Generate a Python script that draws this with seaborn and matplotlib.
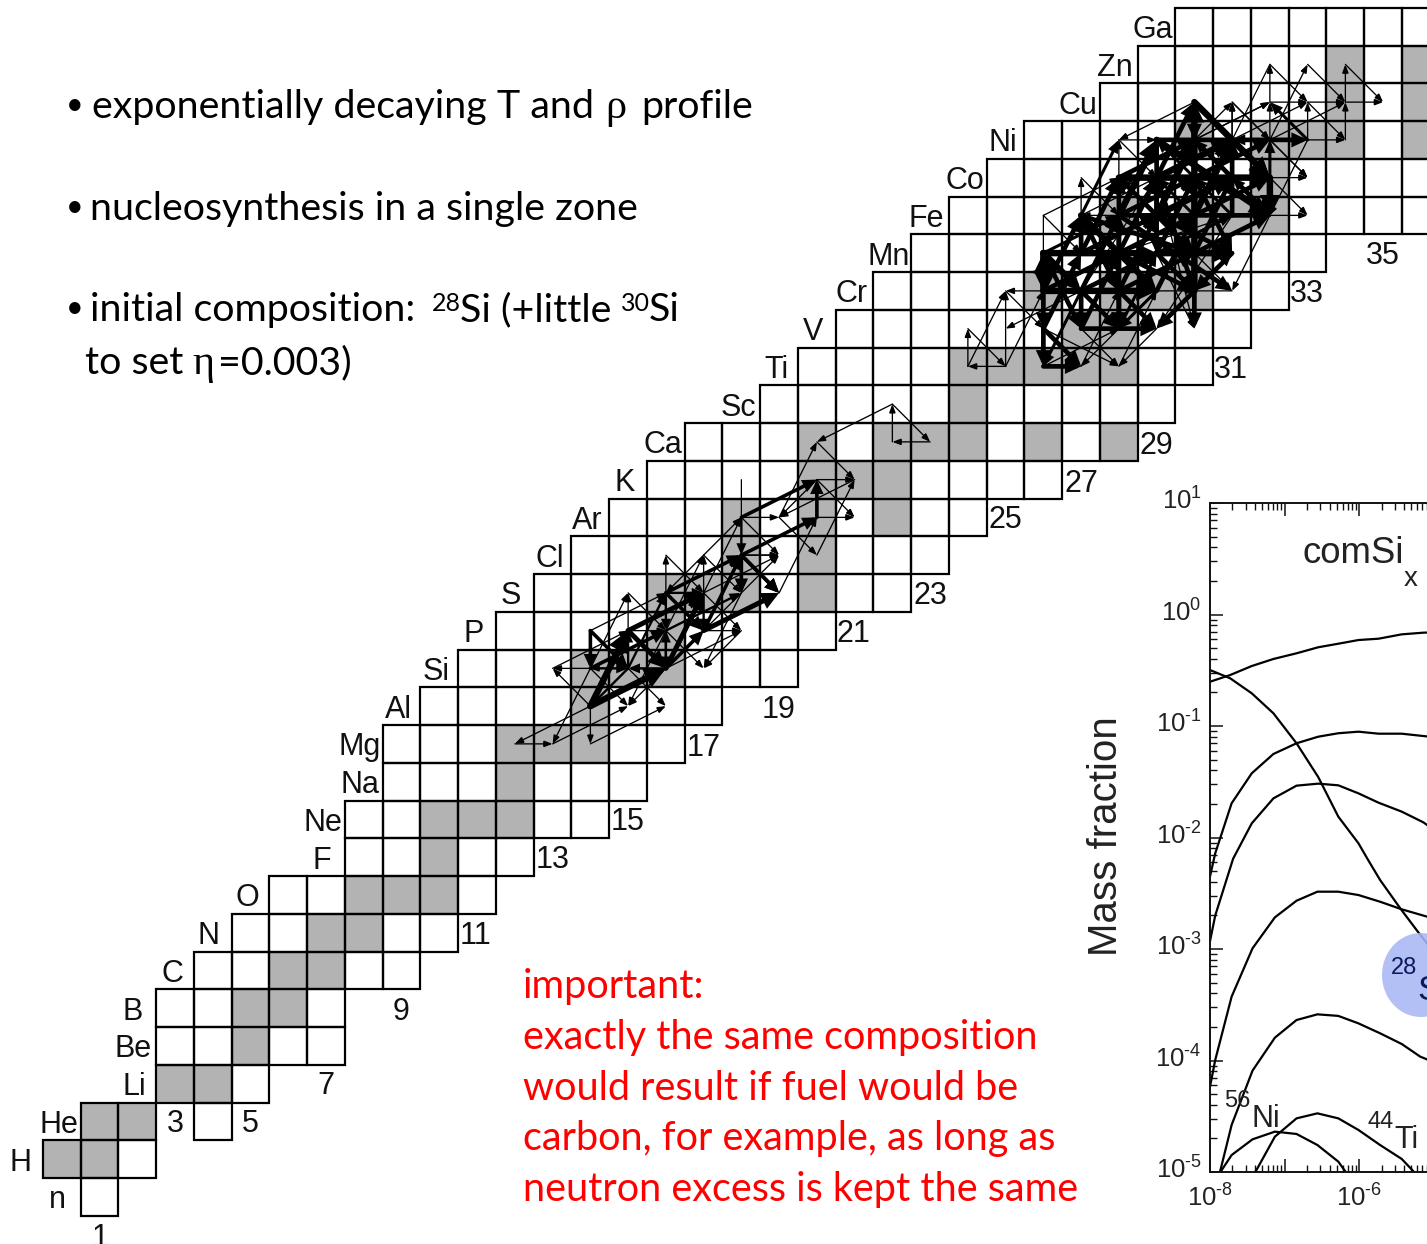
import matplotlib
matplotlib.use("Agg")
import matplotlib.pyplot as plt
from matplotlib.patches import Rectangle, FancyArrowPatch, Ellipse
from matplotlib.transforms import IdentityTransform, ScaledTranslation
from matplotlib.ticker import FixedLocator, FuncFormatter, NullFormatter
import numpy as np
import pandas as pd
import seaborn as sns

W, H = 1427, 1244
PITCH, X0, Y0 = 37.75, 43.0, 1215.75

# ---------- nuclide chart data ----------
elements = ["n","H","He","Li","Be","B","C","N","O","F","Ne","Na","Mg","Al","Si","P","S","Cl","Ar","K",
            "Ca","Sc","Ti","V","Cr","Mn","Fe","Co","Ni","Cu","Zn","Ga"]
row_first_n = [1,0,1,3,3,3,4,5,6,8,8,9,9,10,11,12,13,14,15,16,17,19,20,21,22,23,24,25,26,28,29,30]
row_last_n  = [1,2,2,5,7,7,9,10,11,12,14,15,16,17,19,20,22,23,24,26,28,29,30,31,32,33,37,37,37,37,37,37]
extra_cells = [(4,2)]
stable = {1:[0,1],2:[1,2],3:[3,4],4:[5],5:[5,6],6:[6,7],7:[7,8],8:[8,9,10],9:[10],10:[10,11,12],11:[12],
          12:[12,13,14],13:[14],14:[14,15,16],15:[16],16:[16,17,18,20],17:[18,20],18:[18,20,22],
          19:[20,21,22],20:[20,22,23,24,26,28],21:[24],22:[24,25,26,27,28],23:[27,28],24:[26,28,29,30],
          25:[30],26:[28,30,31,32],27:[32],28:[30,32,33,34,36],29:[34,36],30:[34,36]}
label_right_px = [66,32,78,146,152,143,183,220,259,331,342,380,381,412,450,484,521,564,603,635,682,756,789,823,
                  868,910,944,984,1017,1097,1133,1173]
neutron_numbers = [1,3,5,7,9,11,13,15,17,19,21,23,25,27,29,31,33,35]
neutron_label_px = [(100,1234),(175,1121),(250,1121),(326,1083),(401,1008),(476,933),(553,857),(628,819),(704,744),
                    (779,706),(853,631),(930,593),(1005,517),(1081,480),(1156,442),(1231,366),(1307,291),(1383,253)]

# flows: N from, Z from, N to, Z to, weight class
flows_low = [
 (14,13,12,12,1),(12,12,13,12,1),(14,14,13,12,1),(14,12,16,13,1),(13,12,15,13,1),(14,13,14,12,1),
 (14,13,13,14,1),(14,14,15,13,1),(15,14,16,13,1),(16,14,15,13,1),(13,14,15,15,1),(14,15,16,16,1),
 (14,14,13,14,1),(15,14,14,14,1),(14,13,16,14,5),(14,13,15,15,5),(14,14,16,15,3),(14,15,14,14,3),
 (14,15,15,14,3),(14,14,15,14,2),(15,14,15,15,2),(15,15,16,14,4),(16,14,16,15,2),(16,14,17,16,4),
 (15,15,17,16,4),(15,14,16,16,2),(16,15,18,16,2),(16,16,17,16,2),(16,16,17,15,3),(17,16,17,15,2),
 (16,14,17,15,3),(17,15,19,16,4),(18,17,19,16,3),(18,17,18,16,3),(16,16,18,17,3),(17,15,18,17,3),
 (17,16,19,17,1),(18,17,19,17,1),(16,16,16,17,1),(16,17,17,16,1),(17,16,17,17,1),(16,15,17,17,1),
 (17,17,18,16,1),(14,14,15,16,1),(15,15,15,16,1),(15,16,16,15,1),(17,16,18,15,1),(17,15,18,15,1),
 (18,15,17,14,1),(16,15,17,14,1),(16,14,18,15,1),(15,15,16,15,1),(15,14,14,13,2),(16,15,15,13,1),
 (16,14,15,14,2),(16,15,16,14,2),(16,16,16,15,2),(17,17,16,16,1),(18,16,17,15,1),(18,16,17,14,1),
]
flows_mid = [
 (18,18,20,19,3),(18,17,20,18,3),(20,18,20,19,3),(18,18,18,17,2),(18,17,18,16,2),(18,18,18,19,0),
 (18,18,19,18,1),(21,19,19,18,1),(19,18,20,17,1),(20,19,19,18,1),(19,18,20,20,1),(20,20,21,19,1),
 (20,19,21,19,1),(20,19,21,18,1),(20,18,21,18,1),(20,17,21,19,1),(18,17,19,16,3),(18,17,19,17,1),
 (18,18,19,17,1),(19,16,20,18,1),(18,16,19,17,1),(22,21,20,20,1),(22,20,22,21,1),(22,21,23,20,1),
 (23,20,22,20,1),(17,17,18,18,1),(17,16,18,18,1),
]
flows_high = [
 (24,22,24,23,1),(24,23,25,22,1),(25,22,24,22,1),(24,22,25,24,1),(25,22,25,24,1),(25,24,26,23,1),
 (25,22,26,24,1),(27,24,25,23,1),(26,24,25,24,1),(26,23,26,22,3),(26,22,27,22,3),(26,23,27,22,3),
 (26,24,26,25,4),(26,25,26,24,4),(26,24,26,23,3),(26,24,29,24,4),(26,25,27,24,4),(27,24,28,23,3),
 (28,24,29,23,3),(26,24,28,25,3),(27,24,29,25,3),(28,24,30,25,3),(26,25,28,26,2),(27,25,29,26,3),
 (28,25,30,26,3),(29,25,31,26,2),(27,24,28,26,3),(28,24,29,26,3),(29,24,30,26,3),(26,23,27,25,3),
 (27,23,28,25,3),(28,23,29,25,2),(27,26,29,24,4),(27,24,27,23,3),(28,24,28,23,3),(27,23,29,23,3),
 (27,24,26,22,2),(27,22,28,24,1),(28,22,29,24,1),(26,23,28,22,1),(27,23,28,22,1),(26,22,28,23,1),
 (29,23,28,22,1),(29,24,28,23,2),(26,25,31,25,0),(26,25,29,25,4),(29,25,31,25,4),(27,26,27,27,1),
 (27,27,28,26,1),(26,26,28,27,1),(26,25,26,26,0),(26,26,27,25,1),(27,26,29,27,1),(28,26,27,26,1),
 (28,26,32,26,3),(28,27,32,27,4),(29,28,33,28,3),(28,26,29,28,4),(29,26,30,28,4),(29,27,30,29,3),
 (30,26,31,28,4),(28,25,29,27,3),(29,25,30,27,3),(30,25,31,27,3),(30,24,30,29,4),(30,29,32,27,4),
 (29,28,29,25,3),(29,28,32,26,4),(31,28,32,27,3),(28,27,30,28,3),(29,27,31,28,4),(30,26,32,27,3),
 (30,27,32,28,3),(30,25,32,26,3),(29,26,31,27,4),(32,27,32,26,4),(28,26,31,24,3),(30,27,31,25,3),
 (29,26,31,25,3),(30,28,32,26,3),(29,27,30,24,3),(28,27,30,25,3),(27,26,30,25,3),(28,28,29,28,1),
 (30,29,28,28,1),(28,28,29,27,1),(28,27,28,28,1),(29,26,28,27,2),(30,26,29,27,2),(31,26,30,27,2),
 (30,28,31,29,1),(31,27,31,29,1),(31,29,32,28,1),(30,28,32,29,1),(31,28,33,29,1),(32,27,33,27,1),
 (32,28,33,27,1),(32,26,33,26,1),(32,27,33,26,1),(32,26,31,24,1),(30,24,31,24,0),(30,25,31,24,1),
 (29,25,30,24,3),(28,25,30,24,3),(28,24,30,24,1),(33,28,32,26,1),(32,29,32,30,1),(32,30,33,29,1),
 (33,29,34,28,1),(34,28,34,29,1),(34,29,34,30,1),(34,30,35,29,1),(34,29,35,29,1),(33,28,33,29,1),
 (33,30,34,29,1),(32,28,33,30,1),(33,29,34,29,1),(32,28,34,29,1),(33,28,34,28,1),(33,28,32,29,2),
 (32,29,33,29,1),(30,28,32,29,1),(31,28,31,29,1),(31,29,32,28,1),(32,28,33,27,1),(31,28,32,30,0),
 (32,28,32,29,1),(32,27,32,28,2),(30,29,30,28,3),(26,24,27,26,3),(27,25,28,27,3),(27,24,29,27,0),
 (28,25,31,26,0),(27,26,28,28,2),(28,26,30,27,3),(29,27,28,27,2),(30,27,29,28,2),(31,27,30,28,2),
 (32,28,31,28,2),(28,24,28,26,3),(27,25,27,26,3),(28,26,28,27,3),(29,26,29,27,3),(31,26,31,28,3),
 (26,25,27,23,3),(27,26,28,24,3),(28,26,28,23,3),(29,27,30,23,1),(30,24,29,23,3),(30,27,30,23,3),
 (31,25,30,24,3),(32,26,31,27,2),(31,26,29,23,1),(28,23,27,22,1),(29,25,30,23,1),(30,24,31,25,2),
]

# ---------- inset curves: log10 time, log10 mass fraction ----------
t_a = [-8.0,-7.73,-7.44,-7.15,-6.84,-6.55,-6.28,-6.01,-5.74,-5.43,-5.14,-5.0]
m_a = [-0.603,-0.543,-0.462,-0.399,-0.348,-0.294,-0.262,-0.229,-0.217,-0.178,-0.163,-0.16]
t_b = [-8.0,-7.73,-7.44,-7.15,-6.84,-6.55,-6.28,-6.01,-5.88,-5.72,-5.45,-5.18,-5.09,-5.0]
m_b = [-0.498,-0.572,-0.707,-0.886,-1.155,-1.457,-1.813,-2.052,-2.202,-2.381,-2.635,-2.875,-2.95,-3.05]
t_c = [-8.0,-7.93,-7.71,-7.44,-7.15,-6.84,-6.55,-6.28,-6.01,-5.74,-5.43,-5.14,-5.0]
m_c = [-2.35,-2.142,-1.693,-1.424,-1.251,-1.155,-1.096,-1.065,-1.051,-1.069,-1.069,-1.09,-1.10]
t_d = [-8.0,-7.93,-7.69,-7.44,-7.15,-6.84,-6.55,-6.28,-6.01,-5.74,-5.43,-5.14,-5.0]
m_d = [-2.93,-2.70,-2.19,-1.873,-1.649,-1.535,-1.517,-1.532,-1.604,-1.688,-1.768,-1.864,-1.93]
t_e = [-8.0,-7.93,-7.71,-7.43,-7.13,-6.84,-6.56,-6.28,-6.01,-5.72,-5.43,-5.09,-5.0]
m_e = [-4.235,-3.996,-3.427,-2.994,-2.716,-2.567,-2.486,-2.486,-2.516,-2.576,-2.644,-2.71,-2.74]
t_f = [-7.87,-7.71,-7.43,-7.13,-6.84,-6.56,-6.28,-6.01,-5.72,-5.43,-5.18,-5.09,-5.0]
m_f = [-5.01,-4.578,-4.091,-3.795,-3.637,-3.586,-3.60,-3.667,-3.756,-3.852,-3.966,-3.99,-4.04]
t_ni = [-7.87,-7.71,-7.43,-7.13,-6.84,-6.56,-6.28,-6.17]
m_ni = [-5.01,-4.848,-4.707,-4.638,-4.659,-4.758,-4.907,-5.01]
t_ti = [-7.40,-7.13,-6.84,-6.56,-6.28,-6.01,-5.72,-5.43,-5.25]
m_ti = [-5.01,-4.683,-4.519,-4.474,-4.519,-4.623,-4.758,-4.883,-5.01]

# ---------- texts ----------
bullets = ["exponentially decaying T and", "profile", "nucleosynthesis in a single zone",
           "initial composition: ", "Si (+little ", "Si", "to set ", "=0.003)"]
red_lines = ["important:", "exactly the same composition", "would result if fuel would be",
             "carbon, for example, as long as", "neutron excess is kept the same"]

sns.set_theme(style="white")
plt.rcParams["font.family"] = ["Liberation Sans", "DejaVu Sans"]
plt.rcParams["mathtext.fontset"] = "custom"
plt.rcParams["mathtext.rm"] = "Liberation Sans"
plt.rcParams["mathtext.default"] = "regular"

fig = plt.figure(figsize=(W/100, H/100), dpi=100, facecolor="white")
ax = fig.add_axes([0, 0, 1, 1], zorder=1)
ax.set_xlim(-X0/PITCH, (W-X0)/PITCH)
ax.set_ylim((Y0-H)/PITCH, Y0/PITCH)
ax.axis("off")

def px_x(x): return (x-X0)/PITCH
def px_y(y): return (Y0-y)/PITCH

GRAY = "#b3b3b3"
GRID_LW = 1.6
for z, (a, b) in enumerate(zip(row_first_n, row_last_n)):
    for n in range(a, b+1):
        fc = GRAY if n in stable.get(z, []) else "white"
        ax.add_patch(Rectangle((n, z), 1, 1, fc=fc, ec="none", zorder=1))
for n, z in extra_cells:
    ax.add_patch(Rectangle((n, z), 1, 1, fc="white", ec="none", zorder=1))
for z, (a, b) in enumerate(zip(row_first_n, row_last_n)):
    for n in range(a, b+1):
        ax.add_patch(Rectangle((n, z), 1, 1, fc="none", ec="black", lw=GRID_LW, zorder=2))
for n, z in extra_cells:
    ax.add_patch(Rectangle((n, z), 1, 1, fc="none", ec="black", lw=GRID_LW, zorder=2))

for z, (name, rx) in enumerate(zip(elements, label_right_px)):
    ax.text(px_x(rx), z+0.5, name, ha="right", va="center_baseline", fontsize=22, color="#111111", zorder=3)
for num, (lx, ly) in zip(neutron_numbers, neutron_label_px):
    ax.text(px_x(lx), px_y(ly), str(num), ha="center", va="center_baseline", fontsize=22, color="#111111", zorder=3)

weights = {0:(0.9,0,0), 1:(0.95,5,1.9), 2:(1.7,5.5,2.3), 3:(2.6,6,2.8), 4:(3.6,7,3.4), 5:(4.6,8,4)}
def draw_flows(rows, scale):
    for n1, z1, n2, z2, w in rows:
        lw, hl, hw = weights[w]
        if w >= 2:
            lw *= scale
        style = "-" if w == 0 else f"-|>,head_length={hl},head_width={hw}"
        ax.add_patch(FancyArrowPatch((n1+.5, z1+.5), (n2+.5, z2+.5), arrowstyle=style, mutation_scale=1,
                                     lw=lw, color="black", shrinkA=0, shrinkB=0, zorder=4,
                                     joinstyle="miter", capstyle="round"))
draw_flows(flows_low, 1.0)
draw_flows(flows_mid, 1.0)
draw_flows(flows_high, 1.3)

# ---------- inset ----------
x_l, x_r = 1210, 1210+3*74.6
y_t, y_b = 503, 1172
inset = fig.add_axes([x_l/W, 1-y_b/H, (x_r-x_l)/W, (y_b-y_t)/H], zorder=2, facecolor="none")
curves = [("a",t_a,m_a),("b",t_b,m_b),("c",t_c,m_c),("d",t_d,m_d),("e",t_e,m_e),("f",t_f,m_f),("ni",t_ni,m_ni),("ti",t_ti,m_ti)]
df = pd.concat([pd.DataFrame({"curve":c, "time":10.0**np.array(t), "X":10.0**np.array(m)}) for c,t,m in curves])
sns.lineplot(data=df, x="time", y="X", units="curve", estimator=None, sort=False, color="black", lw=1.6, ax=inset, legend=False)
inset.set_xscale("log"); inset.set_yscale("log")
inset.set_xlim(1e-8, 1e-5); inset.set_ylim(1e-5, 1e1)
inset.set_xlabel(""); inset.set_ylabel("")
for s in ["left","top","bottom"]:
    inset.spines[s].set_visible(True); inset.spines[s].set_linewidth(1.4); inset.spines[s].set_color("#111111")
inset.spines["right"].set_visible(False)
decades_x = [1e-8,1e-7,1e-6,1e-5]
minor_x = [m*d for d in decades_x[:-1] for m in range(2,10)]
decades_y = [1e-5,1e-4,1e-3,1e-2,1e-1,1e0,1e1]
minor_y = [m*d for d in decades_y[:-1] for m in range(2,10)]
def exp_label(v):
    e = round(np.log10(v))
    return r"$10^{\text{-}%d}$" % abs(e) if e < 0 else "$10^{%d}$" % e
inset.xaxis.set_major_locator(FixedLocator(decades_x))
inset.xaxis.set_minor_locator(FixedLocator(minor_x))
inset.yaxis.set_major_locator(FixedLocator(decades_y))
inset.yaxis.set_minor_locator(FixedLocator(minor_y))
inset.xaxis.set_minor_formatter(NullFormatter()); inset.yaxis.set_minor_formatter(NullFormatter())
inset.xaxis.set_major_formatter(FuncFormatter(lambda v,_: exp_label(v) if round(np.log10(v))%2==0 else ""))
inset.yaxis.set_major_formatter(FuncFormatter(lambda v,_: exp_label(v)))
inset.tick_params(which="major", direction="in", length=9.5, width=1.1, top=True, bottom=True, left=True, right=False,
                  labelsize=18.5, pad=6, color="#111111", labelcolor="#222222")
inset.tick_params(which="minor", direction="in", length=5, width=1.0, top=True, bottom=True, left=True, right=False, color="#111111")
inset.tick_params(axis="x", which="major", pad=9)
up = ScaledTranslation(0, 3/72, fig.dpi_scale_trans)
for lab in inset.get_yticklabels():
    lab.set_transform(lab.get_transform() + up)

T = IdentityTransform()
def put(x, y, s, **kw):
    kw.setdefault("transform", T); kw.setdefault("va", "baseline"); kw.setdefault("zorder", 6)
    return fig.text(x, H-y, s, **kw)

fig.add_artist(Ellipse((1421, H-975), 78, 84, transform=T, fc="#a9b8f5", ec="none", alpha=0.88, zorder=5))
put(1391, 974, "28", fontsize=17, color="#0a1a5c")
put(1417, 1000, "Si", fontsize=25, color="#0a1a5c")
put(1224, 1107, "56", fontsize=17, color="#222222")
put(1251, 1127, "Ni", fontsize=22, color="#222222")
put(1367, 1128, "44", fontsize=17, color="#222222")
put(1394, 1148, "Ti", fontsize=22, color="#222222")
put(1302, 563, "comSi", fontsize=26.4, color="#222222")
put(1404, 586, "x", fontsize=20, color="#222222")
put(1106, 836, "Mass fraction", fontsize=29, color="#222222", rotation=90, va="center", ha="center")

# ---------- slide texts ----------
BODY = "Lato"
FS = 28.4
DOT = 22
SYM = "Liberation Serif"
for yy in [117, 219, 320]:
    put(66, yy-3, "•", fontsize=DOT, family=BODY, color="black")
put(92, 118, bullets[0], fontsize=FS, family=BODY, color="black")
put(605, 118, "ρ", fontsize=FS+2, family=SYM, color="black")
put(641, 118, bullets[1], fontsize=FS, family=BODY, color="black")
put(90, 220, bullets[2], fontsize=FS, family=BODY, color="black")
put(90, 321, bullets[3], fontsize=FS, family=BODY, color="black")
put(432, 311, "28", fontsize=18, family=BODY, color="black")
put(460, 321, bullets[4], fontsize=FS, family=BODY, color="black")
put(621, 311, "30", fontsize=18, family=BODY, color="black")
put(649, 321, bullets[5], fontsize=FS, family=BODY, color="black")
put(85, 374, bullets[6], fontsize=FS, family=BODY, color="black")
put(192, 374, "η", fontsize=FS+2, family=SYM, color="black")
put(218, 374, bullets[7], fontsize=FS, family=BODY, color="black")
for s, y in zip(red_lines, [998, 1049, 1100, 1150, 1201]):
    put(523, y, s, fontsize=FS+0.1, family=BODY, color="#ff0000")

fig.savefig("out.png", dpi=100, facecolor="white")
